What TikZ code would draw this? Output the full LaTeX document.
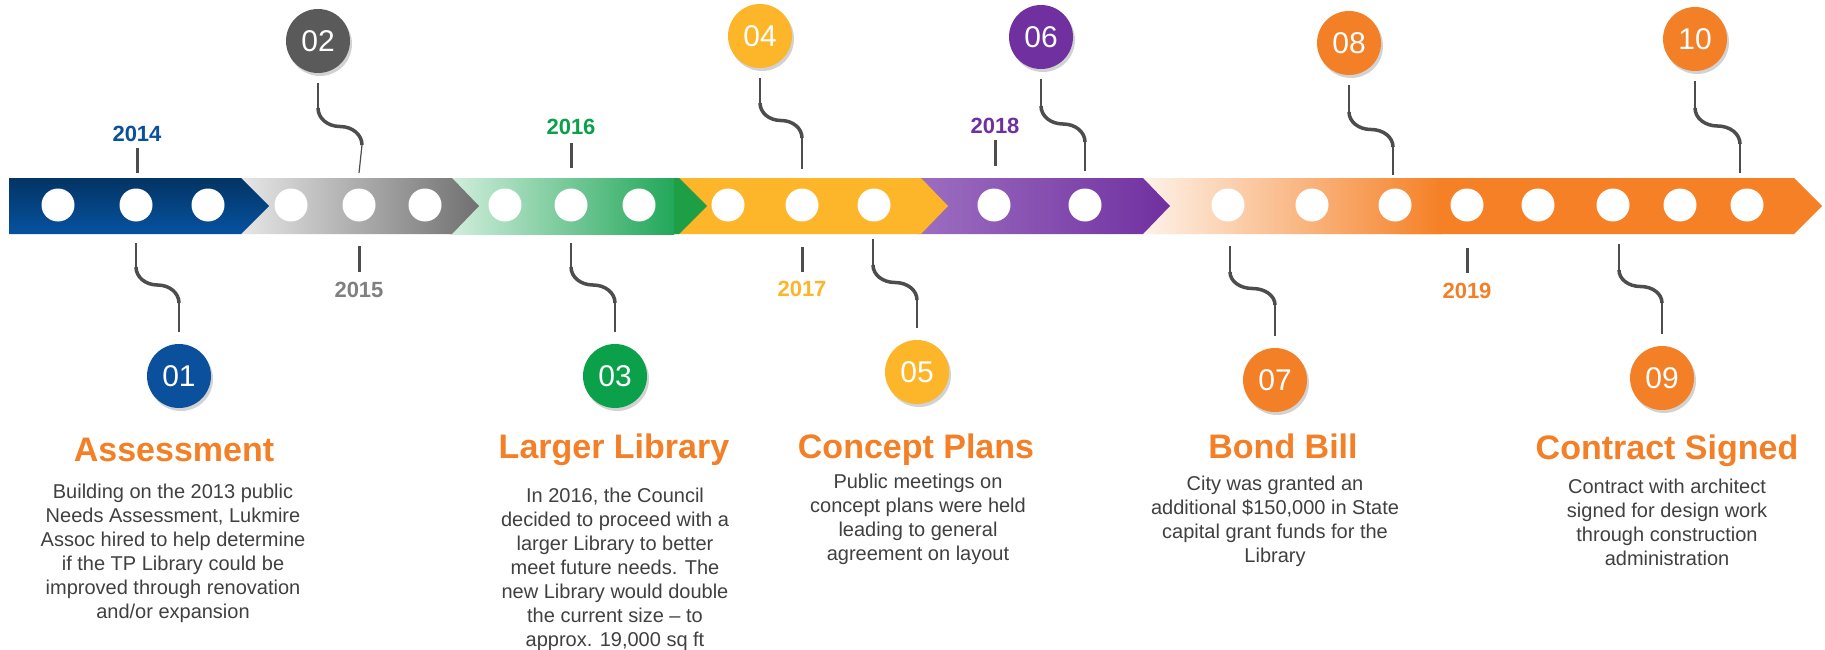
\documentclass[tikz,border=0pt]{standalone}
\usepackage{fontspec}
\setmainfont{Liberation Sans}
\usetikzlibrary{shadows,calc}
\definecolor{bluetop}{HTML}{033464}
\definecolor{bluebot}{HTML}{0652A0}
\definecolor{bluec}{HTML}{0B509C}
\definecolor{greylight}{HTML}{E8E8E8}
\definecolor{greymid}{HTML}{8C8C8C}
\definecolor{greydark}{HTML}{707070}
\definecolor{greyc}{HTML}{5A5A5A}
\definecolor{greylbl}{HTML}{808080}
\definecolor{greenlight}{HTML}{D2EEDD}
\definecolor{greenc}{HTML}{22A75A}
\definecolor{greendark}{HTML}{1E9E45}
\definecolor{greennum}{HTML}{0BA04A}
\definecolor{yellowc}{HTML}{FDB52A}
\definecolor{purplelight}{HTML}{9C6EC0}
\definecolor{purplec}{HTML}{7030A0}
\definecolor{orangelight}{HTML}{FEF4EC}
\definecolor{orangec}{HTML}{F58025}
\definecolor{titleorange}{HTML}{F37F26}
\definecolor{linec}{HTML}{4D4D4D}
\definecolor{bodygrey}{HTML}{404040}
\newcommand\sconn[5]{%
  \coordinate (#1a) at (#2,#3);
  \coordinate (#1c) at (#4,#5);
  \pgfmathsetmacro\sxm{(#2+#4)/2}\pgfmathsetmacro\sym{(#3+#5)/2}%
  \pgfmathsetmacro\sdw{0.28*(#4-#2)}\pgfmathsetmacro\sdh{0.28*(#5-#3)}%
  \draw[thickc] (#1a) .. controls ({#2},{#3+\sdh}) and ({\sxm-\sdw},{\sym}) .. ({\sxm},{\sym})
     .. controls ({\sxm+\sdw},{\sym}) and ({#4},{#5-\sdh}) .. (#1c);
}
\begin{document}
\begin{tikzpicture}[x=1pt,y=-1pt,
  bandc/.style={circle, fill=white, minimum size=33pt, inner sep=0pt},
  numc/.style={circle, minimum size=64pt, inner sep=0pt, text=white,
     font=\fontsize{30}{36}\selectfont,
     drop shadow={shadow xshift=2pt, shadow yshift=-3pt, opacity=0.35}},
  thinc/.style={draw=linec, line width=1.2pt},
  thickc/.style={draw=linec, line width=3.5pt},
  tickc/.style={draw=linec, line width=3pt},
  yearlbl/.style={font=\fontsize{22}{26}\selectfont\bfseries, anchor=base, inner sep=0pt},
  titlelbl/.style={font=\fontsize{34}{40}\selectfont\bfseries, text=titleorange, anchor=base, inner sep=0pt},
  bodytxt/.style={font=\fontsize{20}{24}\selectfont, text=bodygrey, align=center, anchor=north, inner sep=0pt}
]
\useasboundingbox (0,0) rectangle (1825,650);
\fill[white] (0,0) rectangle (1825,650);

% ---- band segments (right to left) ----
\begin{scope}
  \clip (1140,178) -- (1794,178) -- (1822,206) -- (1794,234) -- (1140,234) -- cycle;
  \fill[orangec] (1400,170) rectangle (1830,242);
  \shade[left color=orangelight, right color=orangec] (1138,170) rectangle (1442,242);
\end{scope}
\shade[left color=purplelight, right color=purplec] (918,178) -- (1143,178) -- (1170,206) -- (1143,234) -- (918,234) -- cycle;
\fill[yellowc] (672,178) -- (921,178) -- (948,206) -- (921,234) -- (672,234) -- cycle;
\shade[left color=greenlight, right color=greenc] (450,178) rectangle (674,234);
\fill[greendark] (674,178) -- (679,178) -- (707,206) -- (679,234) -- (674,234) -- cycle;
\shade[left color=greylight, middle color=greymid, right color=greydark] (237,178) -- (452,178) -- (479,206) -- (452,234) -- (237,234) -- cycle;
\shade[top color=bluetop, bottom color=bluebot] (9,178) -- (241,178) -- (269,206) -- (241,234) -- (9,234) -- cycle;

% ---- band circles ----
\foreach \i/\x in {1/58,2/136,3/208,4/291,5/359,6/425,7/505,8/571,9/639,10/728,11/802,12/874,
  13/994,14/1085,15/1228,16/1312,17/1395,18/1467,19/1538,20/1613,21/1680,22/1747}
  \node[bandc] (b\i) at (\x,205) {};

% ---- year ticks and labels ----
\draw[tickc] (137,148) -- (137,173);
\node[yearlbl, text=bluec] (y2014) at (137,142) {2014};
\draw[tickc] (359,246) -- (359,272);
\node[yearlbl, text=greylbl] (y2015) at (359,297) {2015};
\draw[tickc] (571,143) -- (571,168);
\node[yearlbl, text=greennum] (y2016) at (571,135) {2016};
\draw[tickc] (802,247) -- (802,272);
\node[yearlbl, text=yellowc] (y2017) at (802,296) {2017};
\draw[tickc] (995,140) -- (995,166);
\node[yearlbl, text=purplec] (y2018) at (995,133) {2018};
\draw[tickc] (1467,248) -- (1467,273);
\node[yearlbl, text=titleorange] (y2019) at (1467,298) {2019};

% ---- numbered circles ----
\node[numc, fill=bluec] (n01) at (179,376) {01};
\node[numc, fill=greyc] (n02) at (318,41) {02};
\node[numc, fill=greennum] (n03) at (615,376) {03};
\node[numc, fill=yellowc] (n04) at (760,36) {04};
\node[numc, fill=yellowc] (n05) at (917,372) {05};
\node[numc, fill=purplec] (n06) at (1041,37) {06};
\node[numc, fill=titleorange] (n07) at (1275,380) {07};
\node[numc, fill=titleorange] (n08) at (1349,43) {08};
\node[numc, fill=titleorange] (n09) at (1662,378) {09};
\node[numc, fill=titleorange] (n10) at (1695,39) {10};

% ---- top connectors ----
\sconn{s02}{318}{108}{362}{145}
\draw[thinc] ([yshift=-10pt]n02.south) -- (s02a);
\draw[thinc] (s02c) -- (b5 |- 0,173);
\sconn{s04}{760}{103}{802}{138}
\draw[thinc] ([yshift=-10pt]n04.south) -- (s04a);
\draw[thinc] (s04c) -- (b11 |- 0,169);
\sconn{s06}{1041}{106}{1085}{142}
\draw[thinc] ([yshift=-10pt]n06.south) -- (s06a);
\draw[thinc] (s06c) -- (b14 |- 0,171);
\sconn{s08}{1349}{112}{1393}{147}
\draw[thinc] ([yshift=-10pt]n08.south) -- (s08a);
\draw[thinc] (s08c) -- (1393,175);
\sconn{s10}{1695}{108}{1740}{144}
\draw[thinc] ([yshift=-10pt]n10.south) -- (s10a);
\draw[thinc] (s10c) -- (1740,173);

% ---- bottom connectors ----
\sconn{s01}{136}{267}{179}{303}
\draw[thinc] (b2 |- 0,243) -- (s01a);
\draw[thinc] (s01c) -- ([yshift=12pt]n01.north);
\sconn{s03}{571}{267}{615}{303}
\draw[thinc] (b8 |- 0,243) -- (s03a);
\draw[thinc] (s03c) -- ([yshift=12pt]n03.north);
\sconn{s05}{873}{265}{917}{300}
\draw[thinc] (873,239) -- (s05a);
\draw[thinc] (s05c) -- ([yshift=12pt]n05.north);
\sconn{s07}{1230}{272}{1275}{305}
\draw[thinc] (1230,246) -- (s07a);
\draw[thinc] (s07c) -- ([yshift=12pt]n07.north);
\sconn{s09}{1619}{270}{1662}{303}
\draw[thinc] (1619,244) -- (s09a);
\draw[thinc] (s09c) -- ([yshift=12pt]n09.north);

% ---- titles ----
\node[titlelbl] (t01) at (174,461) {Assessment};
\node[titlelbl] (t03) at (614,458) {Larger Library};
\node[titlelbl] (t05) at (916,458) {Concept Plans};
\node[titlelbl] (t07) at (1283,458) {Bond Bill};
\node[titlelbl] (t09) at (1667,459) {Contract Signed};

% ---- descriptions ----
\node[bodytxt] (d01) at (173,484) {Building on the 2013 public\\Needs Assessment, Lukmire\\Assoc hired to help determine\\if the TP Library could be\\improved through renovation\\and/or expansion};
\node[bodytxt] (d03) at (615,488) {In 2016, the Council\\decided to proceed with a\\larger Library to better\\meet future needs. The\\new Library would double\\the current size – to\\approx. 19,000 sq ft};
\node[bodytxt] (d05) at (918,474) {Public meetings on\\concept plans were held\\leading to general\\agreement on layout};
\node[bodytxt] (d07) at (1275,476) {City was granted an\\additional \$150,000 in State\\capital grant funds for the\\Library};
\node[bodytxt] (d09) at (1667,479) {Contract with architect\\signed for design work\\through construction\\administration};
\end{tikzpicture}
\end{document}
